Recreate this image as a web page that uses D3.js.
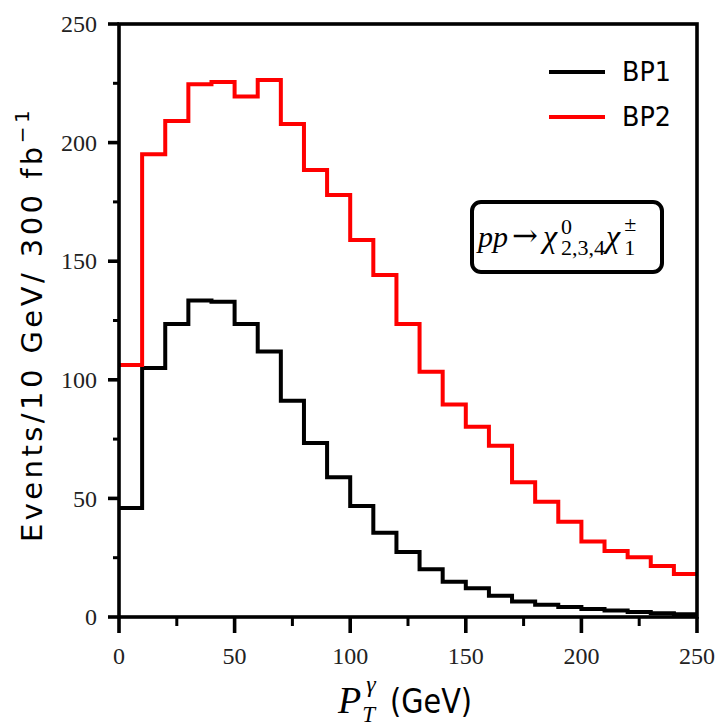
<!DOCTYPE html>
<html>
<head>
<meta charset="utf-8">
<script src="https://cdn.jsdelivr.net/npm/d3@7"></script>
<style>
  body { margin: 0; background: #fff; }
  svg { display: block; }
</style>
</head>
<body>
<div id="chart"></div>
<script>
// bin edges are 0,10,...,240 (10 GeV wide)
const binLow = d3.range(0, 250, 10);
const bp1 = [46, 105, 123.5, 133.4, 132.9, 123.5, 111.9, 91.2, 73.4, 58.9,
             46.8, 35.5, 27.4, 20.1, 14.9, 12.1, 9.0, 6.5, 5.2, 4.2,
             3.4, 2.7, 2.1, 1.6, 1.2];
const bp2 = [106.2, 195.1, 209.1, 224.6, 225.5, 219.4, 226.4, 207.8, 188.4, 177.9,
             158.9, 144.2, 123.5, 103.4, 89.6, 80.2, 72.2, 56.8, 48.6, 40.2,
             31.8, 27.8, 25.2, 21.5, 18.1];
const seriesNames = ['BP1', 'BP2'];
const seriesColors = ['#000', '#ff0000'];
const xTicks = [0, 50, 100, 150, 200, 250];
const yTicks = [0, 50, 100, 150, 200, 250];

const width = 717, height = 728;
const margin = {left: 119, right: 20, top: 24, bottom: 111};

const svg = d3.select('#chart').append('svg')
  .attr('width', width).attr('height', height);

const x = d3.scaleLinear().domain([0, 250]).range([margin.left, width - margin.right]);
const y = d3.scaleLinear().domain([0, 250]).range([height - margin.bottom, margin.top]);

const tickFont = '"Liberation Serif", "DejaVu Serif", serif';
const sansFont = '"DejaVu Sans", sans-serif';

// histograms as steps
const step = d3.line().curve(d3.curveStepAfter).x(d => x(d[0])).y(d => y(d[1]));
[bp1, bp2].forEach((vals, i) => {
  const pts = binLow.map((b, j) => [b, vals[j]]);
  pts.push([250, vals[vals.length - 1]]);
  svg.append('path')
    .attr('d', step(pts))
    .attr('fill', 'none')
    .attr('stroke', seriesColors[i])
    .attr('stroke-width', 4)
    .attr('stroke-linejoin', 'miter');
});

// frame
const frame = svg.append('g').attr('stroke', '#000').attr('stroke-width', 3.6).attr('fill', 'none');
frame.append('rect')
  .attr('x', x(0)).attr('y', y(250))
  .attr('width', x(250) - x(0)).attr('height', y(0) - y(250));

// y ticks
const yMinor = d3.range(25, 250, 50);
svg.append('g').selectAll('line.major').data(yTicks).join('line')
  .attr('x1', x(0) - 11).attr('x2', x(0))
  .attr('y1', d => y(d)).attr('y2', d => y(d))
  .attr('stroke', '#000').attr('stroke-width', 3.6);
svg.append('g').selectAll('line.minor').data(yMinor).join('line')
  .attr('x1', x(0) - 6).attr('x2', x(0))
  .attr('y1', d => y(d)).attr('y2', d => y(d))
  .attr('stroke', '#000').attr('stroke-width', 3);
svg.append('g').selectAll('text').data(yTicks).join('text')
  .attr('x', x(0) - 22).attr('y', d => y(d))
  .attr('dy', '0.34em')
  .attr('text-anchor', 'end')
  .attr('font-family', tickFont).attr('font-size', 24).attr('fill', '#222')
  .text(d => d);

// x ticks
const xMinor = d3.range(25, 250, 50);
svg.append('g').selectAll('line.major').data(xTicks).join('line')
  .attr('x1', d => x(d)).attr('x2', d => x(d))
  .attr('y1', y(0)).attr('y2', y(0) + 16)
  .attr('stroke', '#000').attr('stroke-width', 3.6);
svg.append('g').selectAll('line.minor').data(xMinor).join('line')
  .attr('x1', d => x(d)).attr('x2', d => x(d))
  .attr('y1', y(0)).attr('y2', y(0) + 9)
  .attr('stroke', '#000').attr('stroke-width', 3);
svg.append('g').selectAll('text').data(xTicks).join('text')
  .attr('x', d => x(d)).attr('y', y(0) + 47)
  .attr('text-anchor', 'middle')
  .attr('font-family', tickFont).attr('font-size', 24).attr('fill', '#222')
  .text(d => d);

// y axis title
const yTitle = svg.append('text')
  .attr('transform', `translate(42,${(y(0) + y(250)) / 2 + 4}) rotate(-90)`)
  .attr('text-anchor', 'middle')
  .attr('font-family', sansFont).attr('font-size', 29).attr('fill', '#000');
yTitle.append('tspan').text('Events/10 GeV/ 300 fb');
yTitle.append('tspan').attr('dy', -13).attr('font-size', 20).text('\u22121');
const yLen = yTitle.node().getComputedTextLength();
const targetLen = 442;
if (yLen < targetLen) yTitle.attr('letter-spacing', (targetLen - yLen) / 25);

// x axis title: P_T^gamma then (GeV)
const xBase = 713;
const xt = svg.append('g').attr('fill', '#000');
const pW = xt.append('text').attr('x', 338).attr('y', xBase)
  .attr('font-family', tickFont).attr('font-style', 'italic').attr('font-size', 38)
  .text('P').node().getComputedTextLength();
xt.append('text').attr('x', 338 + pW + 1).attr('y', xBase + 9)
  .attr('font-family', tickFont).attr('font-style', 'italic').attr('font-size', 23)
  .text('T');
xt.append('text').attr('x', 338 + pW + 5).attr('y', xBase - 21)
  .attr('font-family', tickFont).attr('font-style', 'italic').attr('font-size', 24)
  .text('\u03b3');
xt.append('text').attr('x', 390).attr('y', xBase)
  .attr('font-family', sansFont).attr('font-size', 34)
  .attr('textLength', 82).attr('lengthAdjust', 'spacingAndGlyphs')
  .text('(GeV)');

// legend
const legend = svg.append('g');
seriesNames.forEach((name, i) => {
  const ly = 72 + i * 45;
  legend.append('line')
    .attr('x1', 549).attr('x2', 605).attr('y1', ly).attr('y2', ly)
    .attr('stroke', seriesColors[i]).attr('stroke-width', 4);
  legend.append('text')
    .attr('x', 622).attr('y', ly + 9)
    .attr('font-family', sansFont).attr('font-size', 26).attr('fill', '#000')
    .attr('textLength', 49).attr('lengthAdjust', 'spacingAndGlyphs')
    .text(name);
});

// process label in a rounded box
svg.append('rect')
  .attr('x', 472).attr('y', 202).attr('width', 190).attr('height', 70)
  .attr('rx', 9)
  .attr('fill', '#fff').attr('stroke', '#000').attr('stroke-width', 4);

const proc = svg.append('g').attr('font-family', tickFont).attr('fill', '#000');
let cx = 478;
const base = 247;
function piece(str, opts) {
  const t = proc.append('text')
    .attr('x', cx).attr('y', base + (opts.dy || 0))
    .attr('font-size', opts.size || 30)
    .attr('font-style', opts.italic ? 'italic' : 'normal')
    .text(str);
  if (opts.family) t.attr('font-family', opts.family);
  return t.node().getComputedTextLength();
}
cx += piece('pp', {italic: true});
cx += 4;
cx += piece('\u2192', {family: '"DejaVu Serif", serif', size: 31, dy: -1});
cx += 5;
cx += piece('\u03c7', {italic: true, size: 32});
cx += 4;
cx += Math.max(piece('0', {size: 22, dy: -13}), piece('2,3,4', {size: 22, dy: 8}));
cx += 1;
cx += piece('\u03c7', {italic: true, size: 32});
cx += 4;
Math.max(piece('\u00b1', {size: 22, dy: -16}), piece('1', {size: 22, dy: 8}));
</script>
</body>
</html>
